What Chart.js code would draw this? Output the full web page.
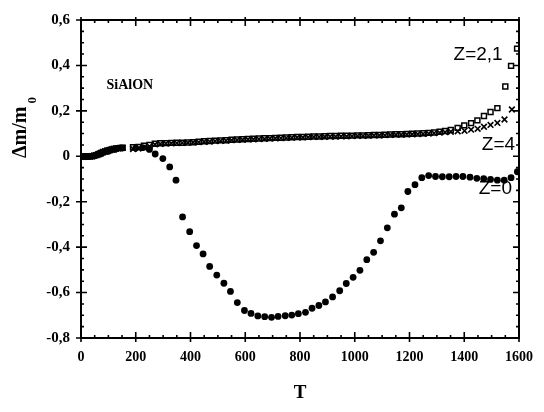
<!DOCTYPE html>
<html>
<head>
<meta charset="utf-8">
<script src="https://cdn.jsdelivr.net/npm/chart.js@4.4.1/dist/chart.umd.min.js"></script>
<style>
  html, body { margin: 0; padding: 0; background: #fff; }
  canvas { display: block; }
</style>
</head>
<body>
<canvas id="chart" width="544" height="412"></canvas>
<script>
// eixos
const xTicks = [0, 200, 400, 600, 800, 1000, 1200, 1400, 1600];
const xTickLabels = ["0", "200", "400", "600", "800", "1000", "1200", "1400", "1600"];
const yTicks = [-0.8, -0.6, -0.4, -0.2, 0, 0.2, 0.4, 0.6];
const yTickLabels = ["-0,8", "-0,6", "-0,4", "-0,2", "0", "0,2", "0,4", "0,6"];

// z=2,1 (quadrados)
const tZ21 = [
  0, 8, 16, 24, 32, 40, 48, 56, 64, 72, 80, 88, 96, 104, 112, 120, 128, 136, 144, 152,
  190, 210, 230, 250,
  270, 290, 310, 330, 350, 370, 390, 410, 430, 450,
  470, 490, 510, 530, 550, 570, 590, 610, 630, 650,
  670, 690, 710, 730, 750, 770, 790, 810, 830, 850,
  870, 890, 910, 930, 950, 970, 990, 1010, 1030, 1050,
  1070, 1090, 1110, 1130, 1150, 1170, 1190, 1210, 1230, 1250,
  1270, 1290, 1310, 1330,
  1351, 1376, 1400, 1425, 1448, 1472, 1496, 1521, 1550, 1571, 1593
];
const vZ21 = [
  0.000, 0.000, -0.002, 0.000, -0.001, 0.000, 0.002, 0.005, 0.009, 0.014, 0.018, 0.021, 0.024, 0.027, 0.030, 0.032, 0.034, 0.036, 0.037, 0.038,
  0.040, 0.041, 0.046, 0.050,
  0.055, 0.057, 0.058, 0.059, 0.060, 0.060, 0.061, 0.062, 0.064, 0.066,
  0.067, 0.069, 0.070, 0.071, 0.073, 0.074, 0.075, 0.076, 0.077, 0.078,
  0.079, 0.080, 0.081, 0.082, 0.083, 0.084, 0.085, 0.085, 0.086, 0.087,
  0.087, 0.088, 0.089, 0.089, 0.090, 0.090, 0.091, 0.092, 0.092, 0.093,
  0.094, 0.094, 0.095, 0.096, 0.097, 0.097, 0.098, 0.099, 0.100, 0.101,
  0.103, 0.105, 0.108, 0.111,
  0.116, 0.125, 0.136, 0.146, 0.158, 0.177, 0.195, 0.212, 0.307, 0.398, 0.474
];

// z=4 (cruzes)
const tZ4 = [
  0, 8, 16, 24, 32, 40, 48, 56, 64, 72, 80, 88, 96, 104, 112, 120, 128, 136, 144, 152,
  190, 210, 230, 250,
  270, 290, 310, 330, 350, 370, 390, 410, 430, 450,
  470, 490, 510, 530, 550, 570, 590, 610, 630, 650,
  670, 690, 710, 730, 750, 770, 790, 810, 830, 850,
  870, 890, 910, 930, 950, 970, 990, 1010, 1030, 1050,
  1070, 1090, 1110, 1130, 1150, 1170, 1190, 1210, 1230, 1250,
  1270, 1290, 1310, 1330,
  1351, 1376, 1401, 1425, 1449, 1472, 1496, 1521, 1547, 1574
];
const vZ4 = [
  0.000, -0.002, 0.000, -0.001, 0.000, 0.001, 0.003, 0.006, 0.010, 0.015, 0.019, 0.022, 0.025, 0.028, 0.030, 0.032, 0.034, 0.035, 0.036, 0.037,
  0.032, 0.034, 0.038, 0.044,
  0.052, 0.055, 0.056, 0.057, 0.058, 0.059, 0.060, 0.061, 0.062, 0.064,
  0.065, 0.067, 0.068, 0.069, 0.071, 0.072, 0.073, 0.074, 0.075, 0.076,
  0.077, 0.078, 0.079, 0.080, 0.081, 0.082, 0.083, 0.083, 0.084, 0.085,
  0.085, 0.086, 0.087, 0.087, 0.088, 0.088, 0.089, 0.090, 0.090, 0.091,
  0.092, 0.092, 0.093, 0.094, 0.095, 0.095, 0.096, 0.097, 0.098, 0.099,
  0.100, 0.102, 0.104, 0.106,
  0.108, 0.110, 0.112, 0.117, 0.121, 0.130, 0.138, 0.147, 0.162, 0.206
];

// z=0 (círculos)
const tZ0 = [
  0, 25, 50, 75, 100, 125, 150, 200, 225, 250,
  271, 299, 324, 347, 371, 397, 422, 446, 470, 496,
  522, 546, 571, 597, 621, 646, 671, 696, 720, 746,
  770, 794, 820, 844, 869, 893, 919, 945, 969, 994,
  1019, 1044, 1069, 1094, 1119, 1145, 1170, 1194, 1220, 1245,
  1270, 1295, 1320, 1345, 1370, 1395, 1421, 1446, 1471, 1496,
  1521, 1546, 1571, 1594
];
const vZ0 = [
  0.000, 0.000, 0.002, 0.012, 0.022, 0.031, 0.036, 0.036, 0.038, 0.030,
  0.010, -0.010, -0.047, -0.105, -0.267, -0.332, -0.393, -0.430, -0.485, -0.523,
  -0.559, -0.595, -0.644, -0.679, -0.692, -0.703, -0.706, -0.709, -0.705, -0.702,
  -0.699, -0.693, -0.687, -0.669, -0.657, -0.641, -0.619, -0.592, -0.560, -0.533,
  -0.502, -0.455, -0.423, -0.372, -0.315, -0.255, -0.227, -0.155, -0.125, -0.094,
  -0.085, -0.089, -0.090, -0.090, -0.089, -0.089, -0.092, -0.097, -0.099, -0.102,
  -0.105, -0.105, -0.094, -0.068
];

function toPoints(ts, vs) {
  return ts.map((t, i) => ({ x: t, y: vs[i] }));
}

// moldura com marcas para dentro, nos quatro lados
const frameTicks = {
  id: "frameTicks",
  afterDatasetsDraw(chart) {
    const { ctx, chartArea: a } = chart;
    const x = chart.scales.x;
    const y = chart.scales.y;
    ctx.save();
    ctx.strokeStyle = "#000";
    ctx.lineWidth = 2;
    ctx.strokeRect(a.left, a.top, a.right - a.left, a.bottom - a.top);
    ctx.lineWidth = 1.6;
    ctx.beginPath();
    for (let t = 0; t <= 1600; t += 50) {
      const px = x.getPixelForValue(t);
      const major = t % 200 === 0;
      const len = major ? 6 : 3;
      ctx.moveTo(px, a.bottom + (major ? 4 : 0));
      ctx.lineTo(px, a.bottom - len);
      ctx.moveTo(px, a.top - (major ? 3 : 0));
      ctx.lineTo(px, a.top + len);
    }
    for (let i = -16; i <= 12; i++) {
      const py = y.getPixelForValue(i * 0.05);
      const major = i % 4 === 0;
      const len = major ? 6 : 3;
      ctx.moveTo(a.left - (major ? 5 : 0), py);
      ctx.lineTo(a.left + len, py);
      ctx.moveTo(a.right, py);
      ctx.lineTo(a.right - len, py);
    }
    ctx.stroke();
    ctx.restore();
  }
};

// textos: título do eixo y com subscrito e rótulos das séries
const labels = [
  { text: "SiAlON", t: 93, v: 0.31, font: "bold 14px 'Liberation Serif'" },
  { text: "Z=2,1", t: 1361, v: 0.448, font: "19px 'Liberation Sans'" },
  { text: "Z=4", t: 1464, v: 0.052, font: "19px 'Liberation Sans'" },
  { text: "Z=0", t: 1453, v: -0.145, font: "19px 'Liberation Sans'" }
];

const texts = {
  id: "texts",
  afterDraw(chart) {
    const { ctx } = chart;
    const x = chart.scales.x;
    const y = chart.scales.y;
    ctx.save();
    ctx.fillStyle = "#000";
    ctx.textBaseline = "middle";
    ctx.textAlign = "left";
    labels.forEach((l) => {
      ctx.font = l.font;
      ctx.fillText(l.text, x.getPixelForValue(l.t), y.getPixelForValue(l.v));
    });

    ctx.translate(26, 158);
    ctx.rotate(-Math.PI / 2);
    ctx.textBaseline = "alphabetic";
    ctx.font = "bold 20px 'Liberation Serif'";
    const main = "Δm/m";
    ctx.fillText(main, 0, 0);
    const w = ctx.measureText(main).width;
    ctx.font = "bold 13px 'Liberation Serif'";
    ctx.fillText("0", w + 3, 10);
    ctx.restore();
  }
};

new Chart(document.getElementById("chart"), {
  type: "scatter",
  data: {
    datasets: [
      {
        label: "Z=2,1",
        data: toPoints(tZ21, vZ21),
        pointStyle: "rect",
        pointRadius: 3.5,
        backgroundColor: "rgba(0,0,0,0)",
        borderColor: "#000",
        borderWidth: 1.5
      },
      {
        label: "Z=4",
        data: toPoints(tZ4, vZ4),
        pointStyle: "crossRot",
        pointRadius: 4,
        borderColor: "#000",
        borderWidth: 1.6
      },
      {
        label: "Z=0",
        data: toPoints(tZ0, vZ0),
        pointStyle: "circle",
        pointRadius: 3.4,
        backgroundColor: "#000",
        borderColor: "#000",
        borderWidth: 0
      }
    ]
  },
  options: {
    responsive: false,
    animation: false,
    events: [],
    layout: { padding: { top: 15, right: 14, left: 0, bottom: 0 } },
    plugins: {
      legend: { display: false },
      tooltip: { enabled: false }
    },
    scales: {
      x: {
        type: "linear",
        min: 0,
        max: 1600,
        afterFit(s) { s.height = 74; },
        afterBuildTicks(s) { s.ticks = xTicks.map((v) => ({ value: v })); },
        ticks: {
          callback: (v, i) => xTickLabels[i],
          color: "#000",
          font: { family: "'Liberation Serif'", weight: "bold", size: 14 },
          padding: 11,
          maxRotation: 0,
          autoSkip: false
        },
        grid: { display: false, drawTicks: false },
        border: { display: false },
        title: {
          display: true,
          text: "T",
          color: "#000",
          font: { family: "'Liberation Serif'", weight: "bold", size: 19 },
          padding: { top: 0, bottom: 8 }
        }
      },
      y: {
        type: "linear",
        min: -0.8,
        max: 0.6,
        afterFit(s) { s.width = 81; },
        afterBuildTicks(s) { s.ticks = yTicks.map((v) => ({ value: v })); },
        ticks: {
          callback: (v, i) => yTickLabels[i],
          color: "#000",
          font: { family: "'Liberation Serif'", weight: "bold", size: 15 },
          padding: 11,
          autoSkip: false
        },
        grid: { display: false, drawTicks: false },
        border: { display: false }
      }
    }
  },
  plugins: [frameTicks, texts]
});
</script>
</body>
</html>
